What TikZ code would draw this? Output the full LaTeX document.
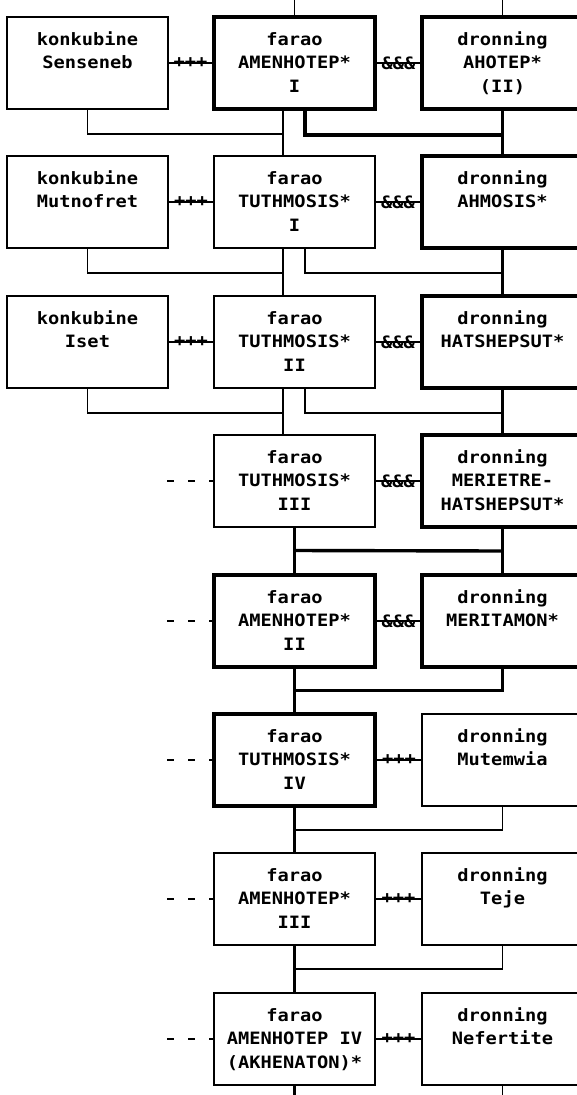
\documentclass[tikz,border=0pt]{standalone}
\usepackage{fontspec}
\usetikzlibrary{calc}
\newfontfamily\skrift[FakeStretch=1.1]{DejaVu Sans Mono Bold}

\begin{document}
\begin{tikzpicture}[x=1pt, y=-1pt,
        person/.style={rectangle, draw, line width=1.6pt, minimum width=161pt, minimum height=92pt,
            inner sep=0pt, align=center, font=\skrift\fontsize{17}{23.5}\selectfont,
            text height=60pt, text depth=2pt, execute at end node=\strut},
        konge/.style={person, line width=3.6pt},
        tynd/.style={line width=1.6pt},
        tyk/.style={line width=3.4pt},
        forbind/.style={inner sep=0pt, font=\skrift\fontsize{17}{17}\selectfont},
        stiplet/.style={line width=1.8pt, dash pattern=on 7pt off 14pt}]
            \useasboundingbox (0,0) rectangle (577,1095);
            \clip (0,0) rectangle (577,1095);

            % row 1
            \node[person] (sen) at (87.5,63) {konkubine\\Senseneb\\};
            \node[konge] (am1) at (294.5,63) {farao\\AMENHOTEP*\\I};
            \node[konge] (aho) at (502.5,63) {dronning\\AHOTEP*\\(II)};
            % row 2
            \node[person] (mut) at (87.5,202) {konkubine\\Mutnofret\\};
            \node[person] (tu1) at (294.5,202) {farao\\TUTHMOSIS*\\I};
            \node[konge] (ahm) at (502.5,202) {dronning\\AHMOSIS*\\};
            % row 3
            \node[person] (ise) at (87.5,342) {konkubine\\Iset\\};
            \node[person] (tu2) at (294.5,342) {farao\\TUTHMOSIS*\\II};
            \node[konge] (hat) at (502.5,342) {dronning\\HATSHEPSUT*\\};
            % row 4
            \node[person] (tu3) at (294.5,481) {farao\\TUTHMOSIS*\\III};
            \node[konge] (mer) at (502.5,481) {dronning\\MERIETRE-\\HATSHEPSUT*};
            % row 5
            \node[konge] (am2) at (294.5,621) {farao\\AMENHOTEP*\\II};
            \node[konge] (mta) at (502.5,621) {dronning\\MERITAMON*\\};
            % row 6
            \node[konge] (tu4) at (294.5,760) {farao\\TUTHMOSIS*\\IV};
            \node[person] (mtw) at (502.5,760) {dronning\\Mutemwia\\};
            % row 7
            \node[person] (am3) at (294.5,899) {farao\\AMENHOTEP*\\III};
            \node[person] (tej) at (502.5,899) {dronning\\Teje\\};
            % row 8
            \node[person] (am4) at (294.5,1039) {farao\\AMENHOTEP IV\\(AKHENATON)*};
            \node[person] (nef) at (502.5,1039) {dronning\\Nefertite\\};

            % free ends
            \coordinate (op1) at (294.5,0);
            \coordinate (op2) at (502.5,0);
            \coordinate (ned1) at (294.5,1095);
            \coordinate (ned2) at (502.5,1095);
            \coordinate (d4) at (167,481);
            \coordinate (d5) at (167,621);
            \coordinate (d6) at (167,760);
            \coordinate (d7) at (167,899);
            \coordinate (d8) at (167,1039);

            % marriages
            \draw[tynd] (sen) -- node[forbind]{+++} (am1);
            \draw[tynd] (am1) -- node[forbind]{\&\&\&} (aho);
            \draw[tynd] (mut) -- node[forbind]{+++} (tu1);
            \draw[tynd] (tu1) -- node[forbind]{\&\&\&} (ahm);
            \draw[tynd] (ise) -- node[forbind]{+++} (tu2);
            \draw[tynd] (tu2) -- node[forbind]{\&\&\&} (hat);
            \draw[tynd] (tu3) -- node[forbind]{\&\&\&} (mer);
            \draw[tynd] (am2) -- node[forbind]{\&\&\&} (mta);
            \draw[tynd] (tu4) -- node[forbind]{+++} (mtw);
            \draw[tynd] (am3) -- node[forbind]{+++} (tej);
            \draw[tynd] (am4) -- node[forbind]{+++} (nef);

            % other wives
            \draw[stiplet] (d4) -- (tu3);
            \draw[stiplet] (d5) -- (am2);
            \draw[stiplet] (d6) -- (tu4);
            \draw[stiplet] (d7) -- (am3);
            \draw[stiplet] (d8) -- (am4);

            % top
            \draw[tynd] (op1) -- (am1);
            \draw[tynd] (op2) -- (aho);

            % row 1 to row 2
            \draw[tynd] (sen.south) -- ++(0,24) -| ([xshift=-11.5pt]tu1.north);
            \draw[tynd] ([xshift=-11.5pt]am1.south) -- ([xshift=-11.5pt]tu1.north);
            \draw[tyk] ([xshift=10.5pt]am1.south) -- ++(0,24) -| (ahm.north);
            \draw[tyk] (aho) -- (ahm);

            % row 2 to row 3
            \draw[tynd] (mut.south) -- ++(0,24) -| ([xshift=-11.5pt]tu2.north);
            \draw[tynd] ([xshift=-11.5pt]tu1.south) -- ([xshift=-11.5pt]tu2.north);
            \draw[tynd] ([xshift=10.5pt]tu1.south) -- ++(0,24) -| (hat.north);
            \draw[tyk] (ahm) -- (hat);

            % row 3 to row 4
            \draw[tynd] (ise.south) -- ++(0,24) -| ([xshift=-11.5pt]tu3.north);
            \draw[tynd] ([xshift=-11.5pt]tu2.south) -- ([xshift=-11.5pt]tu3.north);
            \draw[tynd] ([xshift=10.5pt]tu2.south) -- ++(0,24) -| (mer.north);
            \draw[tyk] (hat) -- (mer);

            % row 4 to row 5
            \draw[tyk] (tu3) -- (am2);
            \draw[tyk] (mer) -- (mta);
            \draw[tyk] ($(tu3.south)!0.5!(am2.north)$) -- ($(mer.south)!0.5!(mta.north)$);

            % row 5 to row 8
            \draw[tyk] (am2) -- (tu4);
            \draw[tyk] (mta.south) |- ($(am2.south)!0.5!(tu4.north)$);
            \draw[tyk] (tu4) -- (am3);
            \draw[tynd] (mtw.south) |- ($(tu4.south)!0.5!(am3.north)$);
            \draw[tyk] (am3) -- (am4);
            \draw[tynd] (tej.south) |- ($(am3.south)!0.5!(am4.north)$);

            % bottom
            \draw[tyk] (am4) -- (ned1);
            \draw[tynd] (nef) -- (ned2);
        \end{tikzpicture}
\end{document}
